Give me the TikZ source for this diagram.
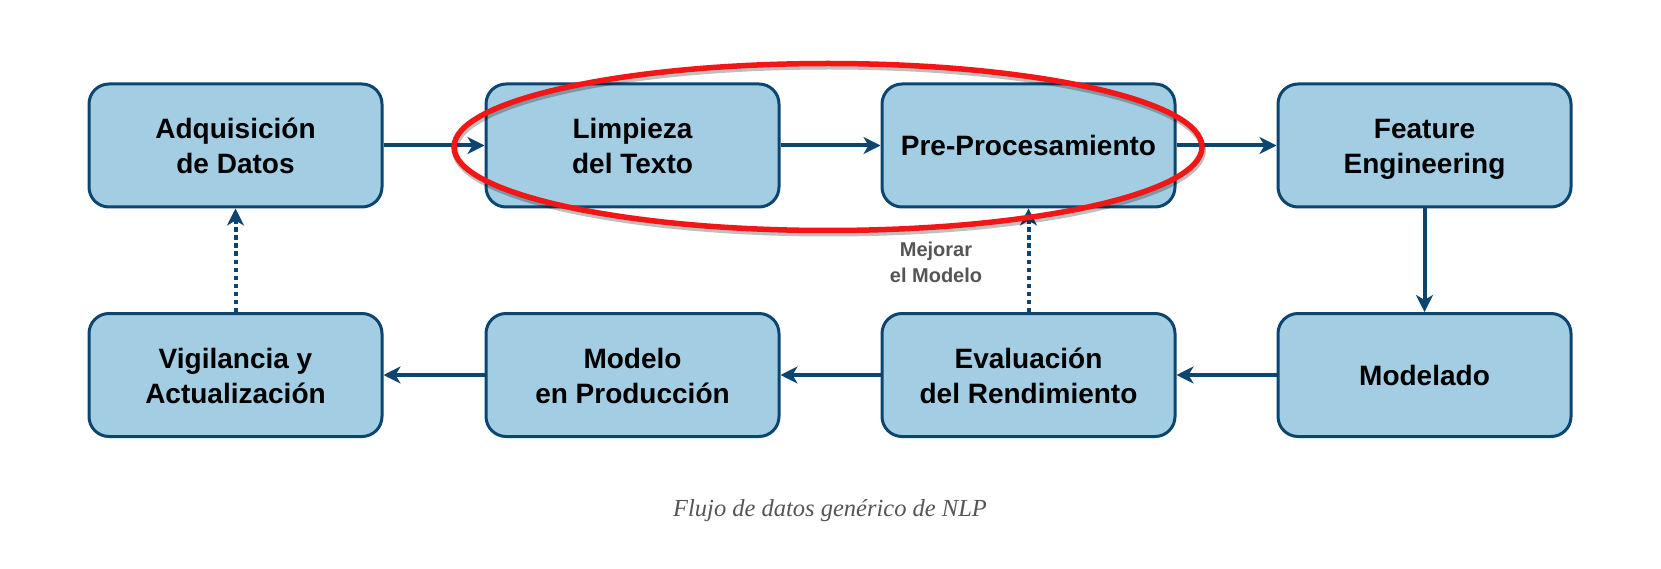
\documentclass[tikz,border=0pt]{standalone}
\usepackage{fontspec}
\newfontfamily\boxfont{Liberation Sans}
\newfontfamily\capfont{Liberation Serif}
\usetikzlibrary{arrows.meta}
\definecolor{boxfill}{RGB}{162,205,226}
\definecolor{boxline}{RGB}{12,70,112}
\definecolor{arrowc}{RGB}{12,70,112}
\definecolor{redc}{RGB}{242,22,22}
\definecolor{graytxt}{RGB}{85,85,85}
\newcommand\topstrut{\rule{0pt}{30pt}}
\newcommand\botstrut{\rule[-8pt]{0pt}{8pt}}
\tikzset{
  stepbox/.style={draw=boxline, fill=boxfill, line width=3pt, rounded corners=20pt,
    minimum width=293pt, minimum height=123pt, align=center,
    font=\boxfont\bfseries\fontsize{28}{35}\selectfont, text=black, inner sep=0pt},
  flow/.style={draw=arrowc, line width=4pt, -{Stealth[length=17pt,width=17pt,inset=5pt]}},
  backflow/.style={flow, dash pattern=on 4.5pt off 3.5pt},
  notetext/.style={font=\boxfont\bfseries\fontsize{20}{26}\selectfont, text=graytxt, align=center},
  captext/.style={font=\capfont\itshape\fontsize{24.5}{28}\selectfont, text=graytxt, anchor=base}
}
\begin{document}
\begin{tikzpicture}[x=1pt,y=-1pt]
\path[use as bounding box, fill=white] (0,0) rectangle (1661,569);
\node[stepbox] (b1) at (235.5,145.5) {\topstrut Adquisición\\de Datos\botstrut};
\node[stepbox] (b2) at (632.5,145.5) {\topstrut Limpieza\\del Texto\botstrut};
\node[stepbox] (b3) at (1028.5,145.5) {Pre-Procesamiento};
\node[stepbox] (b4) at (1424.5,145.5) {\topstrut Feature\\Engineering\botstrut};
\node[stepbox] (b5) at (235.5,375) {\topstrut Vigilancia y\\Actualización\botstrut};
\node[stepbox] (b6) at (632.5,375) {\topstrut Modelo\\en Producción\botstrut};
\node[stepbox] (b7) at (1028.5,375) {\topstrut Evaluación\\del Rendimiento\botstrut};
\node[stepbox] (b8) at (1424.5,375) {Modelado};
\draw[flow] (b1) -- (b2);
\draw[flow] (b2) -- (b3);
\draw[flow] (b3) -- (b4);
\draw[flow] (b4) -- (b8);
\draw[flow] (b8) -- (b7);
\draw[flow] (b7) -- (b6);
\draw[flow] (b6) -- (b5);
\draw[backflow] (b5.north) -- (b1.south);
\draw[backflow] (b7.north) -- (b3.south);
\node[notetext] (note) at (936,262) {Mejorar\\el Modelo};
\node[captext] (cap) at (830,516) {Flujo de datos genérico de NLP};
\draw[black, opacity=0.25, line width=6pt] (829,150) ellipse [x radius=374, y radius=83.5];
\draw[redc, line width=5.5pt] (828,147) ellipse [x radius=374, y radius=83.5];
\end{tikzpicture}
\end{document}
